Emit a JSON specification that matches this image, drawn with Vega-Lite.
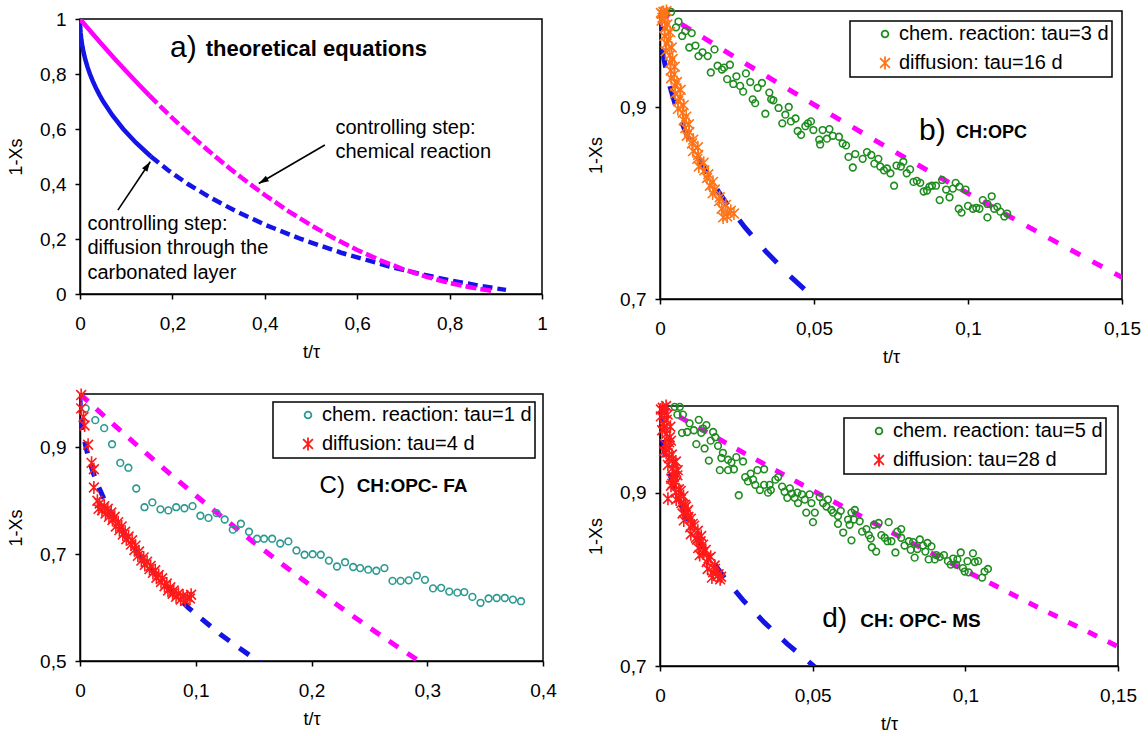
{
"$schema": "https://vega.github.io/schema/vega-lite/v6.json",
"padding": {"left": 6, "top": 0, "right": 2, "bottom": 0},
"background": "white",
"config": {
 "font": "Liberation Sans",
 "view": {"stroke": "black", "strokeWidth": 1.5},
 "axis": {"grid": false, "domainColor": "black", "domainWidth": 1.5, "tickColor": "black", "tickSize": 5, "tickWidth": 1.5, "labelFontSize": 19, "labelColor": "black", "titleFontSize": 18, "titleFontWeight": "normal", "titleColor": "black", "labelFlush": false, "labelOverlap": false, "format": ".3~g"},
 "axisX": {"labelPadding": 15, "titlePadding": 10},
 "axisY": {"labelPadding": 9, "titlePadding": 14},
 "legend": {"orient": "top-right", "strokeColor": "black", "strokeWidth": 1.5, "fillColor": "white", "padding": 3, "labelFontSize": 20, "labelColor": "black", "labelLimit": 400, "symbolStrokeWidth": 1.8, "symbolOpacity": 1, "symbolOffset": 22, "rowPadding": 8, "labelOffset": 4, "offset": 5}
},
"datasets": {
 "theory_diff": [
  {"x":0,"y":1},{"x":0.0000125,"y":0.995},{"x":0.0000502,"y":0.99},{"x":0.0002013,"y":0.98},{"x":0.0004546,"y":0.97},{"x":0.0012714,"y":0.95},{"x":0.0028856,"y":0.925},{"x":0.0051755,"y":0.9},{"x":0.00816,"y":0.875},{"x":0.0118589,"y":0.85},{"x":0.0162932,"y":0.825},{"x":0.0214852,"y":0.8},{"x":0.0274585,"y":0.775},{"x":0.0342384,"y":0.75},{"x":0.0418519,"y":0.725},{"x":0.0503275,"y":0.7},{"x":0.0699911,"y":0.65},{"x":0.0935046,"y":0.6},{"x":0.1211896,"y":0.55},{"x":0.1534264,"y":0.5},{"x":0.1906715,"y":0.45},{"x":0.2334837,"y":0.4},{"x":0.2825623,"y":0.35},{"x":0.3388082,"y":0.3},{"x":0.4034264,"y":0.25},{"x":0.4781124,"y":0.2},{"x":0.565432,"y":0.15},{"x":0.6697415,"y":0.1},{"x":0.7438518,"y":0.07},{"x":0.8002134,"y":0.05},{"x":0.8648033,"y":0.03},{"x":0.9017595,"y":0.02},{"x":0.9220044,"y":0.015}
 ],
 "theory_chem": [
  {"x":0,"y":1},{"x":0.025,"y":0.950625},{"x":0.05,"y":0.9025},{"x":0.075,"y":0.855625},{"x":0.1,"y":0.81},{"x":0.125,"y":0.765625},{"x":0.15,"y":0.7225},{"x":0.175,"y":0.680625},{"x":0.2,"y":0.64},{"x":0.225,"y":0.600625},{"x":0.25,"y":0.5625},{"x":0.275,"y":0.525625},{"x":0.3,"y":0.49},{"x":0.325,"y":0.455625},{"x":0.35,"y":0.4225},{"x":0.4,"y":0.36},{"x":0.45,"y":0.3025},{"x":0.5,"y":0.25},{"x":0.55,"y":0.2025},{"x":0.6,"y":0.16},{"x":0.65,"y":0.1225},{"x":0.7,"y":0.09},{"x":0.75,"y":0.0625},{"x":0.8,"y":0.04},{"x":0.85,"y":0.0225},{"x":0.89,"y":0.0121}
 ],
 "b_pts": [
  {"s":"chem. reaction: tau=3 d","x":0.0036,"y":0.999},{"s":"chem. reaction: tau=3 d","x":0.0060,"y":0.989},{"s":"chem. reaction: tau=3 d","x":0.0052,"y":0.983},{"s":"chem. reaction: tau=3 d","x":0.0082,"y":0.979},{"s":"chem. reaction: tau=3 d","x":0.0072,"y":0.974},{"s":"chem. reaction: tau=3 d","x":0.0103,"y":0.977},{"s":"chem. reaction: tau=3 d","x":0.0095,"y":0.962},{"s":"chem. reaction: tau=3 d","x":0.0115,"y":0.964},{"s":"chem. reaction: tau=3 d","x":0.0125,"y":0.953},{"s":"chem. reaction: tau=3 d","x":0.0138,"y":0.957},{"s":"chem. reaction: tau=3 d","x":0.0155,"y":0.953},{"s":"chem. reaction: tau=3 d","x":0.0177,"y":0.960},{"s":"chem. reaction: tau=3 d","x":0.0165,"y":0.936},{"s":"chem. reaction: tau=3 d","x":0.0187,"y":0.943},{"s":"chem. reaction: tau=3 d","x":0.0201,"y":0.939},{"s":"chem. reaction: tau=3 d","x":0.0208,"y":0.941},{"s":"chem. reaction: tau=3 d","x":0.0227,"y":0.944},{"s":"chem. reaction: tau=3 d","x":0.0218,"y":0.929},{"s":"chem. reaction: tau=3 d","x":0.0248,"y":0.932},{"s":"chem. reaction: tau=3 d","x":0.0279,"y":0.935},{"s":"chem. reaction: tau=3 d","x":0.0238,"y":0.924},{"s":"chem. reaction: tau=3 d","x":0.0260,"y":0.922},{"s":"chem. reaction: tau=3 d","x":0.0270,"y":0.916},{"s":"chem. reaction: tau=3 d","x":0.0293,"y":0.926},{"s":"chem. reaction: tau=3 d","x":0.0317,"y":0.920},{"s":"chem. reaction: tau=3 d","x":0.0331,"y":0.925},{"s":"chem. reaction: tau=3 d","x":0.0355,"y":0.915},{"s":"chem. reaction: tau=3 d","x":0.0301,"y":0.908},{"s":"chem. reaction: tau=3 d","x":0.0309,"y":0.904},{"s":"chem. reaction: tau=3 d","x":0.0361,"y":0.908},{"s":"chem. reaction: tau=3 d","x":0.0368,"y":0.907},{"s":"chem. reaction: tau=3 d","x":0.0342,"y":0.893},{"s":"chem. reaction: tau=3 d","x":0.0385,"y":0.899},{"s":"chem. reaction: tau=3 d","x":0.0418,"y":0.900},{"s":"chem. reaction: tau=3 d","x":0.0407,"y":0.892},{"s":"chem. reaction: tau=3 d","x":0.0397,"y":0.883},{"s":"chem. reaction: tau=3 d","x":0.0425,"y":0.885},{"s":"chem. reaction: tau=3 d","x":0.0440,"y":0.888},{"s":"chem. reaction: tau=3 d","x":0.0480,"y":0.883},{"s":"chem. reaction: tau=3 d","x":0.0490,"y":0.885},{"s":"chem. reaction: tau=3 d","x":0.0447,"y":0.875},{"s":"chem. reaction: tau=3 d","x":0.0458,"y":0.871},{"s":"chem. reaction: tau=3 d","x":0.0472,"y":0.880},{"s":"chem. reaction: tau=3 d","x":0.0498,"y":0.876},{"s":"chem. reaction: tau=3 d","x":0.0528,"y":0.876},{"s":"chem. reaction: tau=3 d","x":0.0550,"y":0.877},{"s":"chem. reaction: tau=3 d","x":0.0517,"y":0.866},{"s":"chem. reaction: tau=3 d","x":0.0542,"y":0.867},{"s":"chem. reaction: tau=3 d","x":0.0520,"y":0.861},{"s":"chem. reaction: tau=3 d","x":0.0561,"y":0.870},{"s":"chem. reaction: tau=3 d","x":0.0581,"y":0.869},{"s":"chem. reaction: tau=3 d","x":0.0593,"y":0.862},{"s":"chem. reaction: tau=3 d","x":0.0604,"y":0.860},{"s":"chem. reaction: tau=3 d","x":0.0612,"y":0.848},{"s":"chem. reaction: tau=3 d","x":0.0634,"y":0.851},{"s":"chem. reaction: tau=3 d","x":0.0658,"y":0.846},{"s":"chem. reaction: tau=3 d","x":0.0672,"y":0.853},{"s":"chem. reaction: tau=3 d","x":0.0686,"y":0.850},{"s":"chem. reaction: tau=3 d","x":0.0626,"y":0.837},{"s":"chem. reaction: tau=3 d","x":0.0696,"y":0.841},{"s":"chem. reaction: tau=3 d","x":0.0709,"y":0.846},{"s":"chem. reaction: tau=3 d","x":0.0715,"y":0.838},{"s":"chem. reaction: tau=3 d","x":0.0727,"y":0.834},{"s":"chem. reaction: tau=3 d","x":0.0737,"y":0.836},{"s":"chem. reaction: tau=3 d","x":0.0748,"y":0.831},{"s":"chem. reaction: tau=3 d","x":0.0760,"y":0.818},{"s":"chem. reaction: tau=3 d","x":0.0768,"y":0.839},{"s":"chem. reaction: tau=3 d","x":0.0782,"y":0.838},{"s":"chem. reaction: tau=3 d","x":0.0790,"y":0.843},{"s":"chem. reaction: tau=3 d","x":0.0801,"y":0.831},{"s":"chem. reaction: tau=3 d","x":0.0812,"y":0.835},{"s":"chem. reaction: tau=3 d","x":0.0823,"y":0.822},{"s":"chem. reaction: tau=3 d","x":0.0834,"y":0.823},{"s":"chem. reaction: tau=3 d","x":0.0845,"y":0.821},{"s":"chem. reaction: tau=3 d","x":0.0856,"y":0.812},{"s":"chem. reaction: tau=3 d","x":0.0867,"y":0.813},{"s":"chem. reaction: tau=3 d","x":0.0875,"y":0.817},{"s":"chem. reaction: tau=3 d","x":0.0883,"y":0.818},{"s":"chem. reaction: tau=3 d","x":0.0896,"y":0.818},{"s":"chem. reaction: tau=3 d","x":0.0908,"y":0.803},{"s":"chem. reaction: tau=3 d","x":0.0916,"y":0.824},{"s":"chem. reaction: tau=3 d","x":0.0929,"y":0.814},{"s":"chem. reaction: tau=3 d","x":0.0940,"y":0.806},{"s":"chem. reaction: tau=3 d","x":0.0951,"y":0.815},{"s":"chem. reaction: tau=3 d","x":0.0960,"y":0.821},{"s":"chem. reaction: tau=3 d","x":0.0972,"y":0.817},{"s":"chem. reaction: tau=3 d","x":0.0992,"y":0.814},{"s":"chem. reaction: tau=3 d","x":0.0970,"y":0.794},{"s":"chem. reaction: tau=3 d","x":0.0979,"y":0.790},{"s":"chem. reaction: tau=3 d","x":0.1000,"y":0.797},{"s":"chem. reaction: tau=3 d","x":0.1016,"y":0.794},{"s":"chem. reaction: tau=3 d","x":0.1027,"y":0.795},{"s":"chem. reaction: tau=3 d","x":0.1037,"y":0.794},{"s":"chem. reaction: tau=3 d","x":0.1048,"y":0.803},{"s":"chem. reaction: tau=3 d","x":0.1063,"y":0.799},{"s":"chem. reaction: tau=3 d","x":0.1077,"y":0.807},{"s":"chem. reaction: tau=3 d","x":0.1085,"y":0.794},{"s":"chem. reaction: tau=3 d","x":0.1095,"y":0.796},{"s":"chem. reaction: tau=3 d","x":0.1063,"y":0.785},{"s":"chem. reaction: tau=3 d","x":0.1105,"y":0.791},{"s":"chem. reaction: tau=3 d","x":0.1118,"y":0.786},{"s":"chem. reaction: tau=3 d","x":0.1127,"y":0.789},
  {"s":"diffusion: tau=16 d","x":0.0021,"y":1.0},{"s":"diffusion: tau=16 d","x":0.0006,"y":0.997},{"s":"diffusion: tau=16 d","x":0.0016,"y":0.994},{"s":"diffusion: tau=16 d","x":0.0005,"y":0.990},{"s":"diffusion: tau=16 d","x":0.0024,"y":0.986},{"s":"diffusion: tau=16 d","x":0.0016,"y":0.982},{"s":"diffusion: tau=16 d","x":0.0033,"y":0.978},{"s":"diffusion: tau=16 d","x":0.0014,"y":0.974},{"s":"diffusion: tau=16 d","x":0.0028,"y":0.970},{"s":"diffusion: tau=16 d","x":0.0021,"y":0.966},{"s":"diffusion: tau=16 d","x":0.0038,"y":0.962},{"s":"diffusion: tau=16 d","x":0.0018,"y":0.958},{"s":"diffusion: tau=16 d","x":0.0032,"y":0.954},{"s":"diffusion: tau=16 d","x":0.0041,"y":0.950},{"s":"diffusion: tau=16 d","x":0.0033,"y":0.946},{"s":"diffusion: tau=16 d","x":0.0048,"y":0.942},{"s":"diffusion: tau=16 d","x":0.0035,"y":0.938},{"s":"diffusion: tau=16 d","x":0.0046,"y":0.934},{"s":"diffusion: tau=16 d","x":0.0036,"y":0.930},{"s":"diffusion: tau=16 d","x":0.0055,"y":0.926},{"s":"diffusion: tau=16 d","x":0.0049,"y":0.922},{"s":"diffusion: tau=16 d","x":0.0067,"y":0.918},{"s":"diffusion: tau=16 d","x":0.0049,"y":0.914},{"s":"diffusion: tau=16 d","x":0.0065,"y":0.910},{"s":"diffusion: tau=16 d","x":0.0059,"y":0.906},{"s":"diffusion: tau=16 d","x":0.0077,"y":0.902},{"s":"diffusion: tau=16 d","x":0.0058,"y":0.898},{"s":"diffusion: tau=16 d","x":0.0074,"y":0.894},{"s":"diffusion: tau=16 d","x":0.0085,"y":0.890},{"s":"diffusion: tau=16 d","x":0.0077,"y":0.886},{"s":"diffusion: tau=16 d","x":0.0094,"y":0.882},{"s":"diffusion: tau=16 d","x":0.0082,"y":0.878},{"s":"diffusion: tau=16 d","x":0.0095,"y":0.874},{"s":"diffusion: tau=16 d","x":0.0087,"y":0.870},{"s":"diffusion: tau=16 d","x":0.0108,"y":0.866},{"s":"diffusion: tau=16 d","x":0.0104,"y":0.862},{"s":"diffusion: tau=16 d","x":0.0123,"y":0.858},{"s":"diffusion: tau=16 d","x":0.0107,"y":0.854},{"s":"diffusion: tau=16 d","x":0.0124,"y":0.850},{"s":"diffusion: tau=16 d","x":0.0121,"y":0.846},{"s":"diffusion: tau=16 d","x":0.0142,"y":0.842},{"s":"diffusion: tau=16 d","x":0.0126,"y":0.838},{"s":"diffusion: tau=16 d","x":0.0144,"y":0.834},{"s":"diffusion: tau=16 d","x":0.0157,"y":0.830},{"s":"diffusion: tau=16 d","x":0.0153,"y":0.826},{"s":"diffusion: tau=16 d","x":0.0172,"y":0.822},{"s":"diffusion: tau=16 d","x":0.0162,"y":0.818},{"s":"diffusion: tau=16 d","x":0.0178,"y":0.814},{"s":"diffusion: tau=16 d","x":0.0171,"y":0.810},{"s":"diffusion: tau=16 d","x":0.0194,"y":0.806},{"s":"diffusion: tau=16 d","x":0.0192,"y":0.802},{"s":"diffusion: tau=16 d","x":0.0214,"y":0.798},{"s":"diffusion: tau=16 d","x":0.0200,"y":0.794},{"s":"diffusion: tau=16 d","x":0.0220,"y":0.790},{"s":"diffusion: tau=16 d","x":0.0218,"y":0.786},{"s":"diffusion: tau=16 d","x":0.0230,"y":0.792},{"s":"diffusion: tau=16 d","x":0.0240,"y":0.789},{"s":"diffusion: tau=16 d","x":0.0205,"y":0.785},{"s":"diffusion: tau=16 d","x":0.0003,"y":0.998},{"s":"diffusion: tau=16 d","x":0.0008,"y":0.993},{"s":"diffusion: tau=16 d","x":0.0011,"y":0.999}
 ],
 "c_pts": [
  {"s":"chem. reaction: tau=1 d","x":0.0049,"y":0.973},{"s":"chem. reaction: tau=1 d","x":0.0132,"y":0.951},{"s":"chem. reaction: tau=1 d","x":0.0209,"y":0.936},{"s":"chem. reaction: tau=1 d","x":0.0277,"y":0.906},{"s":"chem. reaction: tau=1 d","x":0.0348,"y":0.871},{"s":"chem. reaction: tau=1 d","x":0.0418,"y":0.862},{"s":"chem. reaction: tau=1 d","x":0.0486,"y":0.823},{"s":"chem. reaction: tau=1 d","x":0.0557,"y":0.788},{"s":"chem. reaction: tau=1 d","x":0.0625,"y":0.797},{"s":"chem. reaction: tau=1 d","x":0.0695,"y":0.784},{"s":"chem. reaction: tau=1 d","x":0.0763,"y":0.782},{"s":"chem. reaction: tau=1 d","x":0.0831,"y":0.788},{"s":"chem. reaction: tau=1 d","x":0.0902,"y":0.786},{"s":"chem. reaction: tau=1 d","x":0.0972,"y":0.790},{"s":"chem. reaction: tau=1 d","x":0.104,"y":0.772},{"s":"chem. reaction: tau=1 d","x":0.111,"y":0.768},{"s":"chem. reaction: tau=1 d","x":0.118,"y":0.777},{"s":"chem. reaction: tau=1 d","x":0.125,"y":0.765},{"s":"chem. reaction: tau=1 d","x":0.132,"y":0.746},{"s":"chem. reaction: tau=1 d","x":0.139,"y":0.757},{"s":"chem. reaction: tau=1 d","x":0.146,"y":0.742},{"s":"chem. reaction: tau=1 d","x":0.153,"y":0.729},{"s":"chem. reaction: tau=1 d","x":0.159,"y":0.729},{"s":"chem. reaction: tau=1 d","x":0.166,"y":0.729},{"s":"chem. reaction: tau=1 d","x":0.173,"y":0.720},{"s":"chem. reaction: tau=1 d","x":0.180,"y":0.724},{"s":"chem. reaction: tau=1 d","x":0.187,"y":0.707},{"s":"chem. reaction: tau=1 d","x":0.194,"y":0.699},{"s":"chem. reaction: tau=1 d","x":0.201,"y":0.700},{"s":"chem. reaction: tau=1 d","x":0.208,"y":0.699},{"s":"chem. reaction: tau=1 d","x":0.215,"y":0.688},{"s":"chem. reaction: tau=1 d","x":0.222,"y":0.677},{"s":"chem. reaction: tau=1 d","x":0.229,"y":0.685},{"s":"chem. reaction: tau=1 d","x":0.236,"y":0.676},{"s":"chem. reaction: tau=1 d","x":0.242,"y":0.674},{"s":"chem. reaction: tau=1 d","x":0.249,"y":0.671},{"s":"chem. reaction: tau=1 d","x":0.256,"y":0.669},{"s":"chem. reaction: tau=1 d","x":0.263,"y":0.674},{"s":"chem. reaction: tau=1 d","x":0.270,"y":0.650},{"s":"chem. reaction: tau=1 d","x":0.277,"y":0.650},{"s":"chem. reaction: tau=1 d","x":0.284,"y":0.651},{"s":"chem. reaction: tau=1 d","x":0.291,"y":0.660},{"s":"chem. reaction: tau=1 d","x":0.298,"y":0.652},{"s":"chem. reaction: tau=1 d","x":0.305,"y":0.636},{"s":"chem. reaction: tau=1 d","x":0.312,"y":0.637},{"s":"chem. reaction: tau=1 d","x":0.319,"y":0.630},{"s":"chem. reaction: tau=1 d","x":0.326,"y":0.628},{"s":"chem. reaction: tau=1 d","x":0.332,"y":0.629},{"s":"chem. reaction: tau=1 d","x":0.339,"y":0.620},{"s":"chem. reaction: tau=1 d","x":0.346,"y":0.609},{"s":"chem. reaction: tau=1 d","x":0.353,"y":0.617},{"s":"chem. reaction: tau=1 d","x":0.360,"y":0.618},{"s":"chem. reaction: tau=1 d","x":0.367,"y":0.618},{"s":"chem. reaction: tau=1 d","x":0.374,"y":0.615},{"s":"chem. reaction: tau=1 d","x":0.381,"y":0.612},
  {"s":"diffusion: tau=4 d","x":0.001,"y":0.998},{"s":"diffusion: tau=4 d","x":0.001,"y":0.973},{"s":"diffusion: tau=4 d","x":0.003,"y":0.957},{"s":"diffusion: tau=4 d","x":0.004,"y":0.941},{"s":"diffusion: tau=4 d","x":0.007,"y":0.905},{"s":"diffusion: tau=4 d","x":0.010,"y":0.871},{"s":"diffusion: tau=4 d","x":0.012,"y":0.859},{"s":"diffusion: tau=4 d","x":0.012,"y":0.825},{"s":"diffusion: tau=4 d","x":0.015,"y":0.800},{"s":"diffusion: tau=4 d","x":0.016,"y":0.785},{"s":"diffusion: tau=4 d","x":0.017,"y":0.795},{"s":"diffusion: tau=4 d","x":0.019,"y":0.782},{"s":"diffusion: tau=4 d","x":0.021,"y":0.790},{"s":"diffusion: tau=4 d","x":0.022,"y":0.776},{"s":"diffusion: tau=4 d","x":0.024,"y":0.785},{"s":"diffusion: tau=4 d","x":0.025,"y":0.770},{"s":"diffusion: tau=4 d","x":0.027,"y":0.778},{"s":"diffusion: tau=4 d","x":0.028,"y":0.764},{"s":"diffusion: tau=4 d","x":0.030,"y":0.770},{"s":"diffusion: tau=4 d","x":0.031,"y":0.752},{"s":"diffusion: tau=4 d","x":0.033,"y":0.760},{"s":"diffusion: tau=4 d","x":0.034,"y":0.745},{"s":"diffusion: tau=4 d","x":0.036,"y":0.752},{"s":"diffusion: tau=4 d","x":0.037,"y":0.737},{"s":"diffusion: tau=4 d","x":0.039,"y":0.742},{"s":"diffusion: tau=4 d","x":0.040,"y":0.728},{"s":"diffusion: tau=4 d","x":0.042,"y":0.733},{"s":"diffusion: tau=4 d","x":0.044,"y":0.718},{"s":"diffusion: tau=4 d","x":0.045,"y":0.726},{"s":"diffusion: tau=4 d","x":0.047,"y":0.708},{"s":"diffusion: tau=4 d","x":0.048,"y":0.716},{"s":"diffusion: tau=4 d","x":0.050,"y":0.697},{"s":"diffusion: tau=4 d","x":0.051,"y":0.705},{"s":"diffusion: tau=4 d","x":0.053,"y":0.688},{"s":"diffusion: tau=4 d","x":0.055,"y":0.694},{"s":"diffusion: tau=4 d","x":0.056,"y":0.680},{"s":"diffusion: tau=4 d","x":0.058,"y":0.686},{"s":"diffusion: tau=4 d","x":0.060,"y":0.672},{"s":"diffusion: tau=4 d","x":0.061,"y":0.678},{"s":"diffusion: tau=4 d","x":0.063,"y":0.665},{"s":"diffusion: tau=4 d","x":0.065,"y":0.670},{"s":"diffusion: tau=4 d","x":0.066,"y":0.656},{"s":"diffusion: tau=4 d","x":0.068,"y":0.661},{"s":"diffusion: tau=4 d","x":0.070,"y":0.648},{"s":"diffusion: tau=4 d","x":0.071,"y":0.655},{"s":"diffusion: tau=4 d","x":0.073,"y":0.640},{"s":"diffusion: tau=4 d","x":0.075,"y":0.645},{"s":"diffusion: tau=4 d","x":0.076,"y":0.632},{"s":"diffusion: tau=4 d","x":0.078,"y":0.638},{"s":"diffusion: tau=4 d","x":0.080,"y":0.626},{"s":"diffusion: tau=4 d","x":0.081,"y":0.632},{"s":"diffusion: tau=4 d","x":0.083,"y":0.620},{"s":"diffusion: tau=4 d","x":0.085,"y":0.626},{"s":"diffusion: tau=4 d","x":0.087,"y":0.615},{"s":"diffusion: tau=4 d","x":0.089,"y":0.622},{"s":"diffusion: tau=4 d","x":0.091,"y":0.613},{"s":"diffusion: tau=4 d","x":0.093,"y":0.620},{"s":"diffusion: tau=4 d","x":0.095,"y":0.617},{"s":"diffusion: tau=4 d","x":0.096,"y":0.624}
 ],
 "d_pts": [
  {"s":"chem. reaction: tau=5 d","x":0.0048,"y":0.999},{"s":"chem. reaction: tau=5 d","x":0.0065,"y":0.999},{"s":"chem. reaction: tau=5 d","x":0.0057,"y":0.990},{"s":"chem. reaction: tau=5 d","x":0.0075,"y":0.990},{"s":"chem. reaction: tau=5 d","x":0.0097,"y":0.980},{"s":"chem. reaction: tau=5 d","x":0.0127,"y":0.984},{"s":"chem. reaction: tau=5 d","x":0.0072,"y":0.969},{"s":"chem. reaction: tau=5 d","x":0.0089,"y":0.970},{"s":"chem. reaction: tau=5 d","x":0.0111,"y":0.972},{"s":"chem. reaction: tau=5 d","x":0.0135,"y":0.969},{"s":"chem. reaction: tau=5 d","x":0.0152,"y":0.978},{"s":"chem. reaction: tau=5 d","x":0.0141,"y":0.974},{"s":"chem. reaction: tau=5 d","x":0.0174,"y":0.970},{"s":"chem. reaction: tau=5 d","x":0.0181,"y":0.964},{"s":"chem. reaction: tau=5 d","x":0.0166,"y":0.960},{"s":"chem. reaction: tau=5 d","x":0.0119,"y":0.956},{"s":"chem. reaction: tau=5 d","x":0.0146,"y":0.951},{"s":"chem. reaction: tau=5 d","x":0.0190,"y":0.954},{"s":"chem. reaction: tau=5 d","x":0.0160,"y":0.937},{"s":"chem. reaction: tau=5 d","x":0.0206,"y":0.946},{"s":"chem. reaction: tau=5 d","x":0.0201,"y":0.940},{"s":"chem. reaction: tau=5 d","x":0.0223,"y":0.938},{"s":"chem. reaction: tau=5 d","x":0.0234,"y":0.935},{"s":"chem. reaction: tau=5 d","x":0.0250,"y":0.941},{"s":"chem. reaction: tau=5 d","x":0.0272,"y":0.936},{"s":"chem. reaction: tau=5 d","x":0.0196,"y":0.926},{"s":"chem. reaction: tau=5 d","x":0.0223,"y":0.926},{"s":"chem. reaction: tau=5 d","x":0.0242,"y":0.927},{"s":"chem. reaction: tau=5 d","x":0.0279,"y":0.918},{"s":"chem. reaction: tau=5 d","x":0.0297,"y":0.922},{"s":"chem. reaction: tau=5 d","x":0.0319,"y":0.926},{"s":"chem. reaction: tau=5 d","x":0.0341,"y":0.927},{"s":"chem. reaction: tau=5 d","x":0.0288,"y":0.913},{"s":"chem. reaction: tau=5 d","x":0.0305,"y":0.915},{"s":"chem. reaction: tau=5 d","x":0.0312,"y":0.909},{"s":"chem. reaction: tau=5 d","x":0.0327,"y":0.903},{"s":"chem. reaction: tau=5 d","x":0.0341,"y":0.909},{"s":"chem. reaction: tau=5 d","x":0.0359,"y":0.909},{"s":"chem. reaction: tau=5 d","x":0.0354,"y":0.900},{"s":"chem. reaction: tau=5 d","x":0.0363,"y":0.903},{"s":"chem. reaction: tau=5 d","x":0.0378,"y":0.915},{"s":"chem. reaction: tau=5 d","x":0.0387,"y":0.918},{"s":"chem. reaction: tau=5 d","x":0.0258,"y":0.897},{"s":"chem. reaction: tau=5 d","x":0.0400,"y":0.907},{"s":"chem. reaction: tau=5 d","x":0.0408,"y":0.901},{"s":"chem. reaction: tau=5 d","x":0.0425,"y":0.905},{"s":"chem. reaction: tau=5 d","x":0.0432,"y":0.899},{"s":"chem. reaction: tau=5 d","x":0.0417,"y":0.894},{"s":"chem. reaction: tau=5 d","x":0.0441,"y":0.894},{"s":"chem. reaction: tau=5 d","x":0.0450,"y":0.900},{"s":"chem. reaction: tau=5 d","x":0.0465,"y":0.898},{"s":"chem. reaction: tau=5 d","x":0.0474,"y":0.892},{"s":"chem. reaction: tau=5 d","x":0.0490,"y":0.898},{"s":"chem. reaction: tau=5 d","x":0.0452,"y":0.888},{"s":"chem. reaction: tau=5 d","x":0.0496,"y":0.888},{"s":"chem. reaction: tau=5 d","x":0.0479,"y":0.877},{"s":"chem. reaction: tau=5 d","x":0.0507,"y":0.877},{"s":"chem. reaction: tau=5 d","x":0.0523,"y":0.895},{"s":"chem. reaction: tau=5 d","x":0.0534,"y":0.888},{"s":"chem. reaction: tau=5 d","x":0.0545,"y":0.884},{"s":"chem. reaction: tau=5 d","x":0.0550,"y":0.892},{"s":"chem. reaction: tau=5 d","x":0.0561,"y":0.880},{"s":"chem. reaction: tau=5 d","x":0.0567,"y":0.877},{"s":"chem. reaction: tau=5 d","x":0.0583,"y":0.873},{"s":"chem. reaction: tau=5 d","x":0.0592,"y":0.879},{"s":"chem. reaction: tau=5 d","x":0.0501,"y":0.866},{"s":"chem. reaction: tau=5 d","x":0.0616,"y":0.869},{"s":"chem. reaction: tau=5 d","x":0.0627,"y":0.877},{"s":"chem. reaction: tau=5 d","x":0.0638,"y":0.880},{"s":"chem. reaction: tau=5 d","x":0.0621,"y":0.863},{"s":"chem. reaction: tau=5 d","x":0.0583,"y":0.864},{"s":"chem. reaction: tau=5 d","x":0.0600,"y":0.854},{"s":"chem. reaction: tau=5 d","x":0.0627,"y":0.845},{"s":"chem. reaction: tau=5 d","x":0.0635,"y":0.869},{"s":"chem. reaction: tau=5 d","x":0.0654,"y":0.867},{"s":"chem. reaction: tau=5 d","x":0.0662,"y":0.855},{"s":"chem. reaction: tau=5 d","x":0.0676,"y":0.858},{"s":"chem. reaction: tau=5 d","x":0.0684,"y":0.851},{"s":"chem. reaction: tau=5 d","x":0.0690,"y":0.847},{"s":"chem. reaction: tau=5 d","x":0.0701,"y":0.863},{"s":"chem. reaction: tau=5 d","x":0.0716,"y":0.865},{"s":"chem. reaction: tau=5 d","x":0.0749,"y":0.866},{"s":"chem. reaction: tau=5 d","x":0.0725,"y":0.851},{"s":"chem. reaction: tau=5 d","x":0.0736,"y":0.848},{"s":"chem. reaction: tau=5 d","x":0.0745,"y":0.844},{"s":"chem. reaction: tau=5 d","x":0.0758,"y":0.844},{"s":"chem. reaction: tau=5 d","x":0.0694,"y":0.837},{"s":"chem. reaction: tau=5 d","x":0.0708,"y":0.832},{"s":"chem. reaction: tau=5 d","x":0.0771,"y":0.831},{"s":"chem. reaction: tau=5 d","x":0.0777,"y":0.855},{"s":"chem. reaction: tau=5 d","x":0.0790,"y":0.858},{"s":"chem. reaction: tau=5 d","x":0.0790,"y":0.848},{"s":"chem. reaction: tau=5 d","x":0.0801,"y":0.839},{"s":"chem. reaction: tau=5 d","x":0.0815,"y":0.844},{"s":"chem. reaction: tau=5 d","x":0.0829,"y":0.843},{"s":"chem. reaction: tau=5 d","x":0.0821,"y":0.834},{"s":"chem. reaction: tau=5 d","x":0.0834,"y":0.825},{"s":"chem. reaction: tau=5 d","x":0.0843,"y":0.835},{"s":"chem. reaction: tau=5 d","x":0.0851,"y":0.846},{"s":"chem. reaction: tau=5 d","x":0.0861,"y":0.839},{"s":"chem. reaction: tau=5 d","x":0.0869,"y":0.832},{"s":"chem. reaction: tau=5 d","x":0.0876,"y":0.842},{"s":"chem. reaction: tau=5 d","x":0.0889,"y":0.838},{"s":"chem. reaction: tau=5 d","x":0.0880,"y":0.823},{"s":"chem. reaction: tau=5 d","x":0.0900,"y":0.823},{"s":"chem. reaction: tau=5 d","x":0.0905,"y":0.828},{"s":"chem. reaction: tau=5 d","x":0.0916,"y":0.826},{"s":"chem. reaction: tau=5 d","x":0.0930,"y":0.828},{"s":"chem. reaction: tau=5 d","x":0.0943,"y":0.821},{"s":"chem. reaction: tau=5 d","x":0.0952,"y":0.817},{"s":"chem. reaction: tau=5 d","x":0.0960,"y":0.824},{"s":"chem. reaction: tau=5 d","x":0.0974,"y":0.823},{"s":"chem. reaction: tau=5 d","x":0.0985,"y":0.831},{"s":"chem. reaction: tau=5 d","x":0.0970,"y":0.817},{"s":"chem. reaction: tau=5 d","x":0.0992,"y":0.813},{"s":"chem. reaction: tau=5 d","x":0.1007,"y":0.821},{"s":"chem. reaction: tau=5 d","x":0.1025,"y":0.830},{"s":"chem. reaction: tau=5 d","x":0.1031,"y":0.820},{"s":"chem. reaction: tau=5 d","x":0.1042,"y":0.821},{"s":"chem. reaction: tau=5 d","x":0.0998,"y":0.809},{"s":"chem. reaction: tau=5 d","x":0.1011,"y":0.808},{"s":"chem. reaction: tau=5 d","x":0.1063,"y":0.809},{"s":"chem. reaction: tau=5 d","x":0.1074,"y":0.812},{"s":"chem. reaction: tau=5 d","x":0.1055,"y":0.802},
  {"s":"diffusion: tau=28 d","x":0.0020,"y":1.0},{"s":"diffusion: tau=28 d","x":0.0003,"y":0.996},{"s":"diffusion: tau=28 d","x":0.0015,"y":0.992},{"s":"diffusion: tau=28 d","x":0.0003,"y":0.988},{"s":"diffusion: tau=28 d","x":0.0022,"y":0.984},{"s":"diffusion: tau=28 d","x":0.0012,"y":0.980},{"s":"diffusion: tau=28 d","x":0.0034,"y":0.976},{"s":"diffusion: tau=28 d","x":0.0007,"y":0.972},{"s":"diffusion: tau=28 d","x":0.0021,"y":0.968},{"s":"diffusion: tau=28 d","x":0.0032,"y":0.964},{"s":"diffusion: tau=28 d","x":0.0036,"y":0.960},{"s":"diffusion: tau=28 d","x":0.0016,"y":0.956},{"s":"diffusion: tau=28 d","x":0.0031,"y":0.952},{"s":"diffusion: tau=28 d","x":0.0013,"y":0.948},{"s":"diffusion: tau=28 d","x":0.0039,"y":0.944},{"s":"diffusion: tau=28 d","x":0.0030,"y":0.940},{"s":"diffusion: tau=28 d","x":0.0052,"y":0.936},{"s":"diffusion: tau=28 d","x":0.0026,"y":0.932},{"s":"diffusion: tau=28 d","x":0.0040,"y":0.928},{"s":"diffusion: tau=28 d","x":0.0053,"y":0.924},{"s":"diffusion: tau=28 d","x":0.0057,"y":0.920},{"s":"diffusion: tau=28 d","x":0.0037,"y":0.916},{"s":"diffusion: tau=28 d","x":0.0053,"y":0.912},{"s":"diffusion: tau=28 d","x":0.0036,"y":0.908},{"s":"diffusion: tau=28 d","x":0.0062,"y":0.904},{"s":"diffusion: tau=28 d","x":0.0052,"y":0.900},{"s":"diffusion: tau=28 d","x":0.0077,"y":0.896},{"s":"diffusion: tau=28 d","x":0.0053,"y":0.892},{"s":"diffusion: tau=28 d","x":0.0070,"y":0.888},{"s":"diffusion: tau=28 d","x":0.0085,"y":0.884},{"s":"diffusion: tau=28 d","x":0.0092,"y":0.880},{"s":"diffusion: tau=28 d","x":0.0074,"y":0.876},{"s":"diffusion: tau=28 d","x":0.0093,"y":0.872},{"s":"diffusion: tau=28 d","x":0.0078,"y":0.868},{"s":"diffusion: tau=28 d","x":0.0107,"y":0.864},{"s":"diffusion: tau=28 d","x":0.0099,"y":0.860},{"s":"diffusion: tau=28 d","x":0.0124,"y":0.856},{"s":"diffusion: tau=28 d","x":0.0101,"y":0.852},{"s":"diffusion: tau=28 d","x":0.0118,"y":0.848},{"s":"diffusion: tau=28 d","x":0.0133,"y":0.844},{"s":"diffusion: tau=28 d","x":0.0141,"y":0.840},{"s":"diffusion: tau=28 d","x":0.0125,"y":0.836},{"s":"diffusion: tau=28 d","x":0.0144,"y":0.832},{"s":"diffusion: tau=28 d","x":0.0130,"y":0.828},{"s":"diffusion: tau=28 d","x":0.0159,"y":0.824},{"s":"diffusion: tau=28 d","x":0.0153,"y":0.820},{"s":"diffusion: tau=28 d","x":0.0179,"y":0.816},{"s":"diffusion: tau=28 d","x":0.0156,"y":0.812},{"s":"diffusion: tau=28 d","x":0.0174,"y":0.808},{"s":"diffusion: tau=28 d","x":0.0189,"y":0.804},{"s":"diffusion: tau=28 d","x":0.0197,"y":0.800},{"s":"diffusion: tau=28 d","x":0.0040,"y":0.910},{"s":"diffusion: tau=28 d","x":0.0068,"y":0.902},{"s":"diffusion: tau=28 d","x":0.0045,"y":0.918},{"s":"diffusion: tau=28 d","x":0.0061,"y":0.894},{"s":"diffusion: tau=28 d","x":0.0082,"y":0.886},{"s":"diffusion: tau=28 d","x":0.0101,"y":0.870},{"s":"diffusion: tau=28 d","x":0.0088,"y":0.878},{"s":"diffusion: tau=28 d","x":0.0112,"y":0.862},{"s":"diffusion: tau=28 d","x":0.0135,"y":0.850},{"s":"diffusion: tau=28 d","x":0.0121,"y":0.846},{"s":"diffusion: tau=28 d","x":0.0150,"y":0.834},{"s":"diffusion: tau=28 d","x":0.0166,"y":0.826},{"s":"diffusion: tau=28 d","x":0.0140,"y":0.830},{"s":"diffusion: tau=28 d","x":0.0180,"y":0.812},{"s":"diffusion: tau=28 d","x":0.0192,"y":0.806},{"s":"diffusion: tau=28 d","x":0.0170,"y":0.802},{"s":"diffusion: tau=28 d","x":0.0200,"y":0.803},{"s":"diffusion: tau=28 d","x":0.0009,"y":0.998},{"s":"diffusion: tau=28 d","x":0.0025,"y":0.990},{"s":"diffusion: tau=28 d","x":0.0014,"y":0.975},{"s":"diffusion: tau=28 d","x":0.0030,"y":0.958},{"s":"diffusion: tau=28 d","x":0.0045,"y":0.934},{"s":"diffusion: tau=28 d","x":0.0020,"y":0.946},{"s":"diffusion: tau=28 d","x":0.0058,"y":0.926},{"s":"diffusion: tau=28 d","x":0.0026,"y":0.893}
 ]
},
"spacing": 29,
"resolve": {"scale": {"color": "independent", "shape": "independent", "size": "independent"}, "legend": {"color": "independent", "shape": "independent", "size": "independent"}},
"hconcat": [
 {"spacing": 22,
  "resolve": {"scale": {"color": "independent", "shape": "independent", "size": "independent"}, "legend": {"color": "independent", "shape": "independent", "size": "independent"}},
  "vconcat": [
   {"spacing": -3,
    "vconcat": [
    {"width": 462, "height": 1, "data": {"values": []}, "mark": {"type": "point"}, "view": {"stroke": null}},
    {"width": 462, "height": 275,
     "encoding": {
      "x": {"field": "x", "type": "quantitative", "scale": {"domain": [0, 1], "nice": false, "zero": false}, "axis": {"values": [0, 0.2, 0.4, 0.6, 0.8, 1], "title": "t/τ", "labelExpr": "replace(datum.label, '.', ',')"}},
      "y": {"field": "y", "type": "quantitative", "scale": {"domain": [0, 1], "nice": false, "zero": false}, "axis": {"values": [0, 0.2, 0.4, 0.6, 0.8, 1], "title": "1-Xs", "labelExpr": "replace(datum.label, '.', ',')"}}
     },
     "layer": [
      {"data": {"name": "theory_diff"}, "transform": [{"filter": {"field": "x", "gte": 0.1534}}], "mark": {"type": "line", "color": "#1414E6", "strokeWidth": 4.5, "strokeDash": [10, 5], "clip": true}},
      {"data": {"name": "theory_diff"}, "transform": [{"filter": {"field": "x", "lte": 0.1535}}], "mark": {"type": "line", "color": "#1414E6", "strokeWidth": 4.5, "clip": true}},
      {"data": {"name": "theory_chem"}, "transform": [{"filter": {"field": "x", "gte": 0.15}}], "mark": {"type": "line", "color": "#FF00FF", "strokeWidth": 4.5, "strokeDash": [11, 4], "clip": true}},
      {"data": {"name": "theory_chem"}, "transform": [{"filter": {"field": "x", "lte": 0.15}}], "mark": {"type": "line", "color": "#FF00FF", "strokeWidth": 4.5, "clip": true}},
      {"data": {"values": [{"x": 0.53, "y": 0.542, "x2": 0.387, "y2": 0.402}, {"x": 0.082, "y": 0.305, "x2": 0.152, "y2": 0.481}]}, "mark": {"type": "rule", "color": "black", "strokeWidth": 1.6}, "encoding": {"x2": {"field": "x2"}, "y2": {"field": "y2"}}},
      {"data": {"values": [{"x": 0.387, "y": 0.402}]}, "mark": {"type": "point", "shape": "M0,0L-0.6,1.9L0.6,1.9Z", "angle": 239.9, "filled": true, "color": "black", "opacity": 1, "size": 110}},
      {"data": {"values": [{"x": 0.152, "y": 0.481}]}, "mark": {"type": "point", "shape": "M0,0L-0.6,1.9L0.6,1.9Z", "angle": 33.6, "filled": true, "color": "black", "opacity": 1, "size": 110}},
      {"data": {"values": [{"x": 0.195, "y": 0.895, "t": "a)"}]}, "mark": {"type": "text", "align": "left", "baseline": "middle", "fontSize": 30, "color": "black"}, "encoding": {"text": {"field": "t"}}},
      {"data": {"values": [{"x": 0.272, "y": 0.89, "t": "theoretical equations"}]}, "mark": {"type": "text", "align": "left", "baseline": "middle", "fontSize": 22, "fontWeight": "bold", "color": "black"}, "encoding": {"text": {"field": "t"}}},
      {"data": {"values": [{"x": 0.553, "y": 0.605, "t": "controlling step:"}, {"x": 0.553, "y": 0.518, "t": "chemical reaction"}, {"x": 0.016, "y": 0.255, "t": "controlling step:"}, {"x": 0.016, "y": 0.166, "t": "diffusion through the"}, {"x": 0.016, "y": 0.075, "t": "carbonated layer"}]}, "mark": {"type": "text", "align": "left", "baseline": "middle", "fontSize": 20, "color": "black"}, "encoding": {"text": {"field": "t"}}}
     ]
    }
   ]
  },
  {"width": 463, "height": 267,
   "encoding": {
    "x": {"field": "x", "type": "quantitative", "scale": {"domain": [0, 0.4], "nice": false, "zero": false}, "axis": {"values": [0, 0.1, 0.2, 0.3, 0.4], "title": "t/τ", "labelExpr": "replace(datum.label, '.', ',')"}},
    "y": {"field": "y", "type": "quantitative", "scale": {"domain": [0.5, 1], "nice": false, "zero": false}, "axis": {"values": [0.5, 0.7, 0.9], "title": "1-Xs", "labelExpr": "replace(datum.label, '.', ',')"}}
   },
   "layer": [
    {"data": {"name": "theory_diff"}, "mark": {"type": "line", "color": "#1414E6", "strokeWidth": 5, "strokeDash": [12, 12], "clip": true}},
    {"data": {"name": "theory_chem"}, "mark": {"type": "line", "color": "#FF00FF", "strokeWidth": 5, "strokeDash": [11, 11], "clip": true}},
    {"data": {"name": "c_pts"}, "mark": {"type": "point", "filled": false, "opacity": 1, "strokeWidth": 1.6},
     "encoding": {
      "color": {"field": "s", "type": "nominal", "scale": {"domain": ["chem. reaction: tau=1 d", "diffusion: tau=4 d"], "range": ["#2A9A90", "#FF1A1A"]}, "legend": {"title": null, "offset": 8}},
      "shape": {"field": "s", "type": "nominal", "scale": {"domain": ["chem. reaction: tau=1 d", "diffusion: tau=4 d"], "range": ["circle", "M0,-1L0,1M-0.75,-0.75L0.75,0.75M-0.75,0.75L0.75,-0.75"]}, "legend": {"title": null, "offset": 8}},
      "size": {"field": "s", "type": "nominal", "scale": {"domain": ["chem. reaction: tau=1 d", "diffusion: tau=4 d"], "range": [45, 170]}, "legend": {"title": null, "offset": 8}}
     }},
    {"data": {"values": [{"x": 0.207, "y": 0.828, "t": "C)"}]}, "mark": {"type": "text", "align": "left", "baseline": "middle", "fontSize": 24, "color": "black"}, "encoding": {"text": {"field": "t"}}},
    {"data": {"values": [{"x": 0.239, "y": 0.828, "t": "CH:OPC- FA"}]}, "mark": {"type": "text", "align": "left", "baseline": "middle", "fontSize": 19, "fontWeight": "bold", "color": "black"}, "encoding": {"text": {"field": "t"}}}
   ]
  }
 ]},
 {"spacing": 28,
  "resolve": {"scale": {"color": "independent", "shape": "independent", "size": "independent"}, "legend": {"color": "independent", "shape": "independent", "size": "independent"}},
  "vconcat": [
  {"width": 462, "height": 288,
   "encoding": {
    "x": {"field": "x", "type": "quantitative", "scale": {"domain": [0, 0.15], "nice": false, "zero": false}, "axis": {"values": [0, 0.05, 0.1, 0.15], "title": "t/τ", "labelExpr": "replace(datum.label, '.', ',')"}},
    "y": {"field": "y", "type": "quantitative", "scale": {"domain": [0.7, 1], "nice": false, "zero": false}, "axis": {"values": [0.7, 0.9], "title": "1-Xs", "labelExpr": "replace(datum.label, '.', ',')"}}
   },
   "layer": [
    {"data": {"name": "theory_diff"}, "mark": {"type": "line", "color": "#1414E6", "strokeWidth": 5, "strokeDash": [19, 19], "clip": true}},
    {"data": {"name": "theory_chem"}, "mark": {"type": "line", "color": "#FF00FF", "strokeWidth": 5, "strokeDash": [11, 14], "clip": true}},
    {"data": {"name": "b_pts"}, "mark": {"type": "point", "filled": false, "opacity": 1, "strokeWidth": 1.6},
     "encoding": {
      "color": {"field": "s", "type": "nominal", "scale": {"domain": ["chem. reaction: tau=3 d", "diffusion: tau=16 d"], "range": ["#1E8C1E", "#FF7418"]}, "legend": {"title": null, "offset": 10}},
      "shape": {"field": "s", "type": "nominal", "scale": {"domain": ["chem. reaction: tau=3 d", "diffusion: tau=16 d"], "range": ["circle", "M0,-1L0,1M-0.75,-0.75L0.75,0.75M-0.75,0.75L0.75,-0.75"]}, "legend": {"title": null, "offset": 10}},
      "size": {"field": "s", "type": "nominal", "scale": {"domain": ["chem. reaction: tau=3 d", "diffusion: tau=16 d"], "range": [45, 170]}, "legend": {"title": null, "offset": 10}}
     }},
    {"data": {"values": [{"x": 0.0841, "y": 0.875, "t": "b)"}]}, "mark": {"type": "text", "align": "left", "baseline": "middle", "fontSize": 30, "color": "black"}, "encoding": {"text": {"field": "t"}}},
    {"data": {"values": [{"x": 0.0961, "y": 0.873, "t": "CH:OPC"}]}, "mark": {"type": "text", "align": "left", "baseline": "middle", "fontSize": 18, "fontWeight": "bold", "color": "black"}, "encoding": {"text": {"field": "t"}}}
   ]
  },
  {"width": 458, "height": 260,
   "encoding": {
    "x": {"field": "x", "type": "quantitative", "scale": {"domain": [0, 0.15], "nice": false, "zero": false}, "axis": {"values": [0, 0.05, 0.1, 0.15], "title": "t/τ", "labelExpr": "replace(datum.label, '.', ',')"}},
    "y": {"field": "y", "type": "quantitative", "scale": {"domain": [0.7, 1], "nice": false, "zero": false}, "axis": {"values": [0.7, 0.9], "title": "1-Xs", "labelExpr": "replace(datum.label, '.', ',')"}}
   },
   "layer": [
    {"data": {"name": "theory_diff"}, "mark": {"type": "line", "color": "#1414E6", "strokeWidth": 5, "strokeDash": [17, 17], "clip": true}},
    {"data": {"name": "theory_chem"}, "mark": {"type": "line", "color": "#FF00FF", "strokeWidth": 5, "strokeDash": [10, 12], "clip": true}},
    {"data": {"name": "d_pts"}, "mark": {"type": "point", "filled": false, "opacity": 1, "strokeWidth": 1.6},
     "encoding": {
      "color": {"field": "s", "type": "nominal", "scale": {"domain": ["chem. reaction: tau=5 d", "diffusion: tau=28 d"], "range": ["#1E8C1E", "#FF1A1A"]}, "legend": {"title": null, "offset": 12}},
      "shape": {"field": "s", "type": "nominal", "scale": {"domain": ["chem. reaction: tau=5 d", "diffusion: tau=28 d"], "range": ["circle", "M0,-1L0,1M-0.75,-0.75L0.75,0.75M-0.75,0.75L0.75,-0.75"]}, "legend": {"title": null, "offset": 12}},
      "size": {"field": "s", "type": "nominal", "scale": {"domain": ["chem. reaction: tau=5 d", "diffusion: tau=28 d"], "range": [45, 170]}, "legend": {"title": null, "offset": 12}}
     }},
    {"data": {"values": [{"x": 0.0531, "y": 0.754, "t": "d)"}]}, "mark": {"type": "text", "align": "left", "baseline": "middle", "fontSize": 28, "color": "black"}, "encoding": {"text": {"field": "t"}}},
    {"data": {"values": [{"x": 0.0656, "y": 0.752, "t": "CH: OPC- MS"}]}, "mark": {"type": "text", "align": "left", "baseline": "middle", "fontSize": 19, "fontWeight": "bold", "color": "black"}, "encoding": {"text": {"field": "t"}}}
   ]
  }
 ]}
]
}
